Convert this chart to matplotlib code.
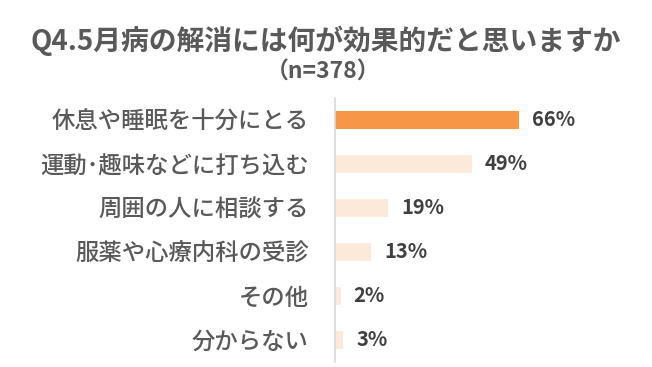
import matplotlib
matplotlib.use("Agg")
import matplotlib.pyplot as plt

plt.rcParams['font.family'] = ['Noto Sans CJK JP', 'DejaVu Sans']

categories = ["休息や睡眠を十分にとる", "運動･趣味などに打ち込む", "周囲の人に相談する",
              "服薬や心療内科の受診", "その他", "分からない"]
values = [66, 49, 19, 13, 2, 3]
highlight = [True, False, False, False, False, False]
title = "Q4.5月病の解消には何が効果的だと思いますか"
subtitle = "（n=378）"

W, H = 652, 367
fig = plt.figure(figsize=(W / 100, H / 100), dpi=100)
ax = fig.add_axes([335 / W, 1 - 362 / H, (640 - 335) / W, (362 - 98) / H])

colors = ["#F79646" if h else "#FDE9D9" for h in highlight]
ys = list(range(len(categories)))
ax.barh(ys, values, height=0.41, color=colors, zorder=2)
ax.set_ylim(len(categories) - 0.5, -0.5)
ax.set_xlim(0, 305 / 2.788)

for y, v in zip(ys, values):
    ax.text(v + 4.7, y, f"{v}%", va="center", ha="left", fontsize=14.5,
            fontweight="bold", color="#404040")

ax.set_yticks(ys)
ax.set_yticklabels(categories, fontsize=16.8, color="#595959", fontweight=500)
ax.tick_params(axis="y", length=0, pad=19)
ax.set_xticks([])
for s in ["top", "right", "bottom"]:
    ax.spines[s].set_visible(False)
ax.spines["left"].set_color("#D9D9D9")
ax.spines["left"].set_linewidth(1.2)

fig.text(326 / W, 1 - 41 / H, title, ha="center", va="center", fontsize=20,
         fontweight="bold", color="#595959")
fig.text(323.5 / W, 1 - 72 / H, subtitle, ha="center", va="center", fontsize=16.5,
         fontweight="bold", color="#595959")

fig.savefig("out.png", dpi=100, facecolor="white")
